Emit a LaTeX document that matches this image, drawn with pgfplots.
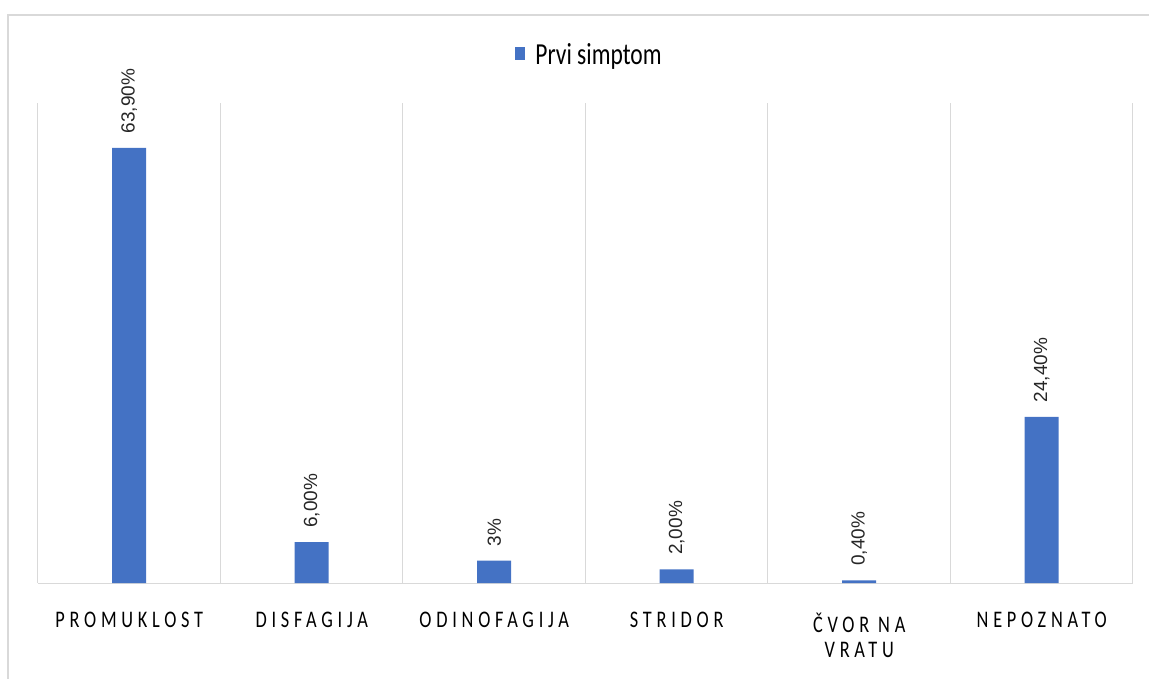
\documentclass[border=0pt]{standalone}
\usepackage{pgfplots}
\pgfplotsset{compat=1.18}
\usepackage{fontspec}
\usepackage{graphicx}
\setmainfont{Carlito}
\newfontfamily\arialfont{Liberation Sans}
\newfontfamily\catfont[LetterSpace=26]{Carlito}
\definecolor{barblue}{HTML}{4472C4}
\definecolor{gridgray}{HTML}{D9D9D9}
\newcommand{\cl}[1]{\scalebox{1}[1.3]{#1}}
\begin{document}
\begin{tikzpicture}[x=1pt,y=1pt]
\path[use as bounding box] (0,0) rectangle (1149,-679);
\draw[gridgray, line width=1.5pt] (8,-15) rectangle (1170,-700);
\begin{axis}[
  at={(38pt,-583pt)}, anchor=south west,
  width=1095pt, height=480pt, scale only axis,
  xmin=-0.5, xmax=5.5, ymin=0, ymax=70.5,
  axis x line*=bottom, axis y line=none,
  x axis line style={gridgray, line width=1pt, -},
  ybar, bar width=34pt,
  xtick={0,...,5},
  xticklabels={\cl{PROMUKLOST}, \cl{DISFAGIJA}, \cl{ODINOFAGIJA}, \cl{STRIDOR}, {\cl{ČVOR NA}\\\cl{VRATU}}, \cl{NEPOZNATO}},
  major tick length=0pt,
  minor xtick={-0.5,0.5,...,5.5},
  minor tick length=0pt,
  xminorgrids, minor grid style={gridgray, line width=1pt},
  xticklabel style={font=\catfont\fontsize{18.3}{25}\selectfont, align=center, anchor=north, yshift=-26pt, text=black},
  nodes near coords, point meta=explicit symbolic,
  every node near coord/.append style={rotate=90, anchor=west, font=\arialfont\fontsize{19}{19}\selectfont, text=black!85, xshift=11pt},
  legend style={at={(0.5,1.0)}, anchor=south, yshift=33pt, xshift=4pt, draw=none, font=\fontsize{23.5}{23.5}\selectfont, legend columns=1},
  legend image code/.code={\fill[barblue] (-8pt,-5pt) rectangle (2pt,8pt); \path (10pt,0pt);},
]
\addplot[fill=barblue, draw=none] coordinates {
 (0,63.9) [63,90\%]
 (1,6.0) [6,00\%]
 (2,3.3) [3\%]
 (3,2.0) [2,00\%]
 (4,0.4) [0,40\%]
 (5,24.4) [24,40\%]
};
\legend{\cl{Prvi simptom}}
\end{axis}
\end{tikzpicture}
\end{document}
